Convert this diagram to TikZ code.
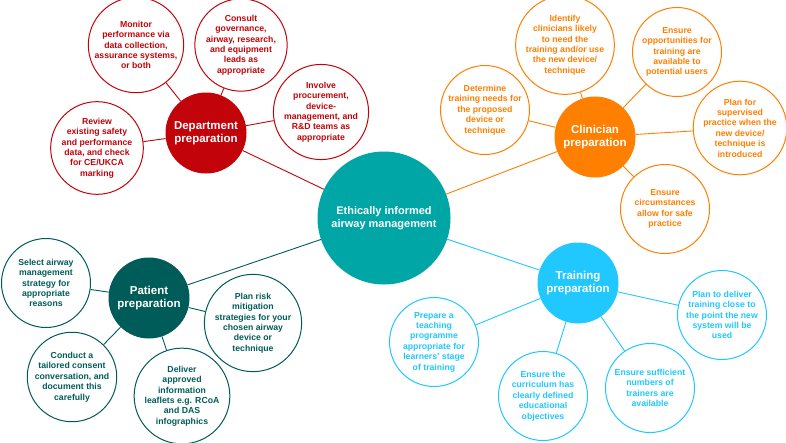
\documentclass[tikz,border=0pt]{standalone}
\usepackage{fontspec}
\setmainfont{Liberation Sans}
\definecolor{dred}{RGB}{194,4,10}
\definecolor{orng}{RGB}{255,127,0}
\definecolor{sky}{RGB}{32,200,255}
\definecolor{pteal}{RGB}{0,92,88}
\definecolor{cteal}{RGB}{0,166,166}
\begin{document}
\begin{tikzpicture}[x=1pt,y=-1pt,
  sat/.style={circle, draw=#1, fill=white, line width=1pt, minimum size=89pt, inner sep=0pt, align=center, text=#1, font=\fontsize{8.7}{10.4}\selectfont\bfseries},
  hub/.style={circle, fill=#1, minimum size=81pt, inner sep=0pt, text=white, align=center, font=\fontsize{11.5}{13.5}\selectfont\bfseries},
  link/.style={draw=#1, line width=0.9pt}]
\useasboundingbox (0,0) rectangle (786,442);
% central
\node[circle, fill=cteal, minimum size=133pt, inner sep=0pt, text=white, align=center, font=\fontsize{11}{13.5}\selectfont\bfseries] (c) at (384,218) {Ethically informed\\airway management};
% hubs
\node[hub=dred] (d) at (206,133) {Department\\preparation};
\node[hub=orng] (k) at (595,137) {Clinician\\preparation};
\node[hub=pteal] (p) at (149,298) {Patient\\preparation};
\node[hub=sky] (t) at (578,283) {Training\\preparation};
% department satellites
\node[sat=dred] (d1) at (136,45) {Monitor\\performance via\\data collection,\\assurance systems,\\or both};
\node[sat=dred] (d2) at (241,45) {Consult\\governance,\\airway, research,\\and equipment\\leads as\\appropriate};
\node[sat=dred] (d3) at (321,112) {Involve\\procurement,\\device-\\management, and\\R\&D teams as\\appropriate};
\node[sat=dred] (d4) at (97,148) {Review\\existing safety\\and performance\\data, and check\\for CE/UKCA\\marking};
% clinician satellites
\node[sat=orng] (k1) at (565,45) {Identify\\clinicians likely\\to need the\\training and/or use\\the new device/\\technique};
\node[sat=orng] (k2) at (677,52) {Ensure\\opportunities for\\training are\\available to\\potential users};
\node[sat=orng] (k3) at (485,110) {Determine\\training needs for\\the proposed\\device or\\technique};
\node[sat=orng] (k4) at (740,128) {Plan for\\supervised\\practice when the\\new device/\\technique is\\introduced};
\node[sat=orng] (k5) at (665,209) {Ensure\\circumstances\\allow for safe\\practice};
% patient satellites
\node[sat=pteal] (p1) at (46,283) {Select airway\\management\\strategy for\\appropriate\\reasons};
\node[sat=pteal] (p2) at (72,377) {Conduct a\\tailored consent\\conversation, and\\document this\\carefully};
\node[sat=pteal] (p3) at (182,396) {Deliver\\approved\\information\\leaflets e.g. RCoA\\and DAS\\infographics};
\node[sat=pteal] (p4) at (253,323) {Plan risk\\mitigation\\strategies for your\\chosen airway\\device or\\technique};
% training satellites
\node[sat=sky] (t1) at (434,342) {Prepare a\\teaching\\programme\\appropriate for\\learners' stage\\of training};
\node[sat=sky] (t2) at (543,396) {Ensure the\\curriculum has\\clearly defined\\educational\\objectives};
\node[sat=sky] (t3) at (650,388) {Ensure sufficient\\numbers of\\trainers are\\available};
\node[sat=sky] (t4) at (722,315) {Plan to deliver\\training close to\\the point the new\\system will be\\used};
% connectors
\draw[link=dred] (c) -- (d);
\draw[link=orng] (c) -- (k);
\draw[link=pteal] (c) -- (p);
\draw[link=sky] (c) -- (t);
\foreach \s in {d1,d2,d3,d4} \draw[link=dred] (d) -- (\s);
\foreach \s in {k1,k2,k3,k4,k5} \draw[link=orng] (k) -- (\s);
\foreach \s in {p1,p2,p3,p4} \draw[link=pteal] (p) -- (\s);
\foreach \s in {t1,t2,t3,t4} \draw[link=sky] (t) -- (\s);
\end{tikzpicture}
\end{document}
